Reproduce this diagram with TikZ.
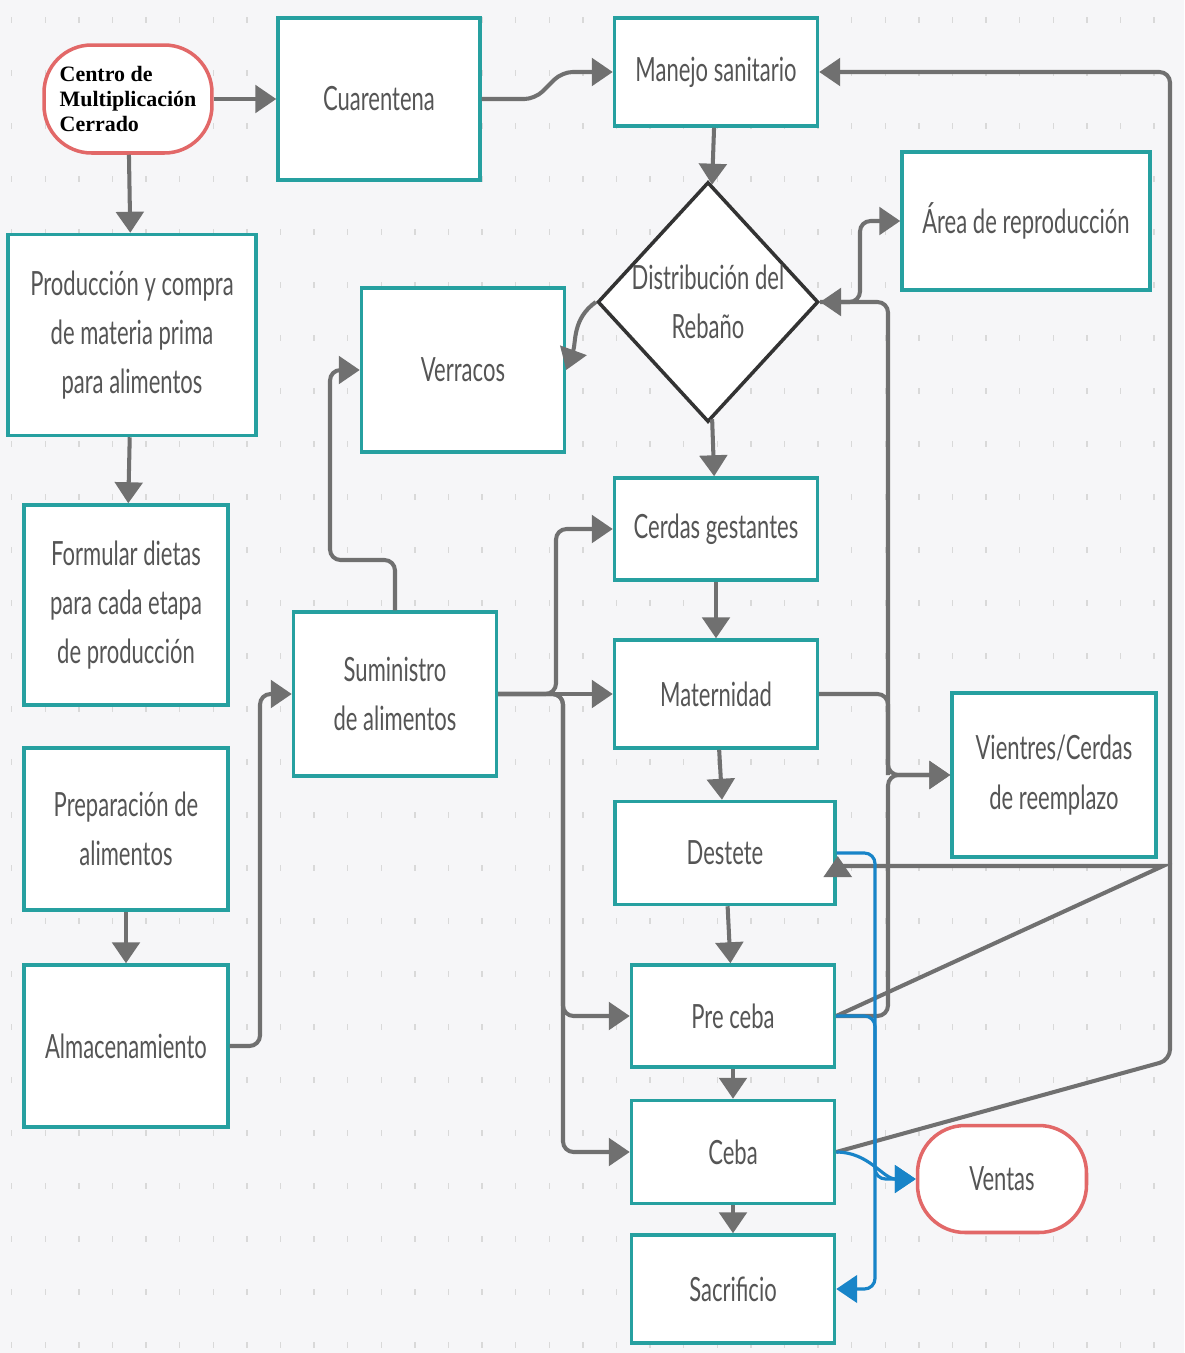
\documentclass[tikz,border=0pt]{standalone}
\usepackage{fontspec}
\setmainfont{Lato}[FakeStretch=0.66]
\newfontfamily\serifb{Liberation Serif}
\usetikzlibrary{arrows.meta,shapes.geometric,calc}

\definecolor{borde}{RGB}{38,160,160}
\definecolor{linea}{RGB}{112,112,112}
\definecolor{rojo}{RGB}{226,104,104}
\definecolor{azul}{RGB}{24,132,200}
\definecolor{texto}{RGB}{85,85,85}
\definecolor{fondo}{RGB}{246,246,248}

\tikzset{
  caja/.style={draw=borde, line width=2pt, fill=white, text=texto, align=center,
    font=\fontsize{19}{28}\selectfont, inner sep=2pt},
  term/.style={caja, draw=rojo, rounded corners=0.95cm},
  rombo/.style={caja, draw=black!80, diamond, aspect=0.92, inner sep=0pt},
  flow/.style={-{Triangle[length=0.42cm,width=0.55cm]}, color=linea, line width=2.3pt, rounded corners=6pt},
  venta/.style={flow, color=azul, line width=1.8pt},
}

\begin{document}
\begin{tikzpicture}[x=0.02cm, y=0.02cm]
  \useasboundingbox[fill=fondo] (0,0) rectangle (1184,-1353);
  % cuadricula de puntos
  \foreach \i in {0,...,34}
    \foreach \j in {0,...,25}
      \fill[black!15] (11+33.6*\i,-17-53*\j) rectangle ++(1.4,-6);

  \node[term, font=\serifb\bfseries\fontsize{12.5}{14.5}\selectfont, text=black, align=left,
    minimum width=3.36cm, minimum height=2.16cm] (centro) at (128,-99)
    {Centro de\\Multiplicación\\Cerrado};
  \node[caja, minimum width=4.04cm, minimum height=3.24cm] (cuar) at (379,-99) {Cuarentena};
  \node[caja, minimum width=4.06cm, minimum height=2.16cm] (manejo) at (716,-72) {Manejo sanitario};
  \node[rombo, minimum width=4.4cm, minimum height=4.8cm] (distrib) at (708,-302) {Distribución del\\Rebaño};
  \node[caja, minimum width=4.96cm, minimum height=2.76cm] (area) at (1026,-221) {Área de reproducción};
  \node[caja, minimum width=4.06cm, minimum height=3.28cm] (verr) at (463,-370) {Verracos};
  \node[caja, minimum width=4.96cm, minimum height=4.02cm] (prod) at (132,-335)
    {Producción y compra\\de materia prima\\para alimentos};
  \node[caja, minimum width=4.08cm, minimum height=4cm] (form) at (126,-605)
    {Formular dietas\\para cada etapa\\de producción};
  \node[caja, minimum width=4.08cm, minimum height=3.24cm] (prep) at (126,-829) {Preparación de\\alimentos};
  \node[caja, minimum width=4.08cm, minimum height=3.24cm] (alma) at (126,-1046) {Almacenamiento};
  \node[caja, minimum width=4.06cm, minimum height=3.28cm] (sumi) at (395,-694) {Suministro\\de alimentos};
  \node[caja, minimum width=4.06cm, minimum height=2.04cm] (cerdas) at (716,-529) {Cerdas gestantes};
  \node[caja, minimum width=4.06cm, minimum height=2.16cm] (mater) at (716,-694) {Maternidad};
  \node[caja, minimum width=4.4cm, minimum height=2.06cm] (dest) at (725,-853) {Destete};
  \node[caja, minimum width=4.06cm, minimum height=2.04cm] (prec) at (733,-1016) {Pre ceba};
  \node[caja, minimum width=4.06cm, minimum height=2.06cm] (ceba) at (733,-1152) {Ceba};
  \node[caja, minimum width=4.06cm, minimum height=2.16cm] (sacr) at (733,-1289) {Sacrificio};
  \node[caja, minimum width=4.08cm, minimum height=3.28cm] (vient) at (1054,-775) {Vientres/Cerdas\\de reemplazo};
  \node[term, minimum width=3.38cm, minimum height=2.14cm] (ventas) at (1002,-1179) {Ventas};
  \coordinate (vj) at (888,-775);

  \path[flow]
    (centro) edge (cuar)
             edge (prod)
    (prod)   edge (form)
    (prep)   edge (alma)
    (manejo) edge (distrib)
    (distrib) edge (cerdas)
    (cerdas) edge (mater)
    (mater)  edge (dest)
    (dest)   edge (prec)
    (prec)   edge (ceba)
    (ceba)   edge (sacr)
    (sumi)   edge (mater);

  \draw[flow] (cuar.east) -- (535,-99) -- (562,-72) -- (manejo.west);
  \draw[flow] (distrib.west) to[out=215,in=70] (verr.east);
  \draw[flow] (distrib.east) -- (860,-302) |- (area.west);
  \draw[flow] (vj) |- (distrib.east);
  \draw[flow] (mater.east) -| (vj) -- (vient.west);
  \draw[flow] (prec.east) -| (vj) -- (vient.west);
  \draw[flow, sharp corners] (prec.east) -- (1163,-866) -- ($(dest.east)+(1,-13)$) -- ($(dest.east)+(1,-3)$);
  \draw[flow] (ceba.east) -- (1170,-1060) -- (1170,-72) -- (manejo.east);
  \draw[flow] (sumi.north) |- (330,-560) |- (verr.west);
  \draw[flow] (sumi.east) -- (556,-694) |- (cerdas.west);
  \draw[flow] (sumi.east) -- (563,-694) |- (prec.west);
  \draw[flow] (sumi.east) -- (563,-694) |- (ceba.west);
  \draw[flow] (alma.east) -- (260,-1046) |- (sumi.west);

  \draw[venta] (dest.east) -- (875,-853) |- (sacr.east);
  \draw[venta] (prec.east) -- (875,-1016) |- (ventas.west);
  \draw[venta] (ceba.east) to[out=0,in=180] (ventas.west);
\end{tikzpicture}
\end{document}
